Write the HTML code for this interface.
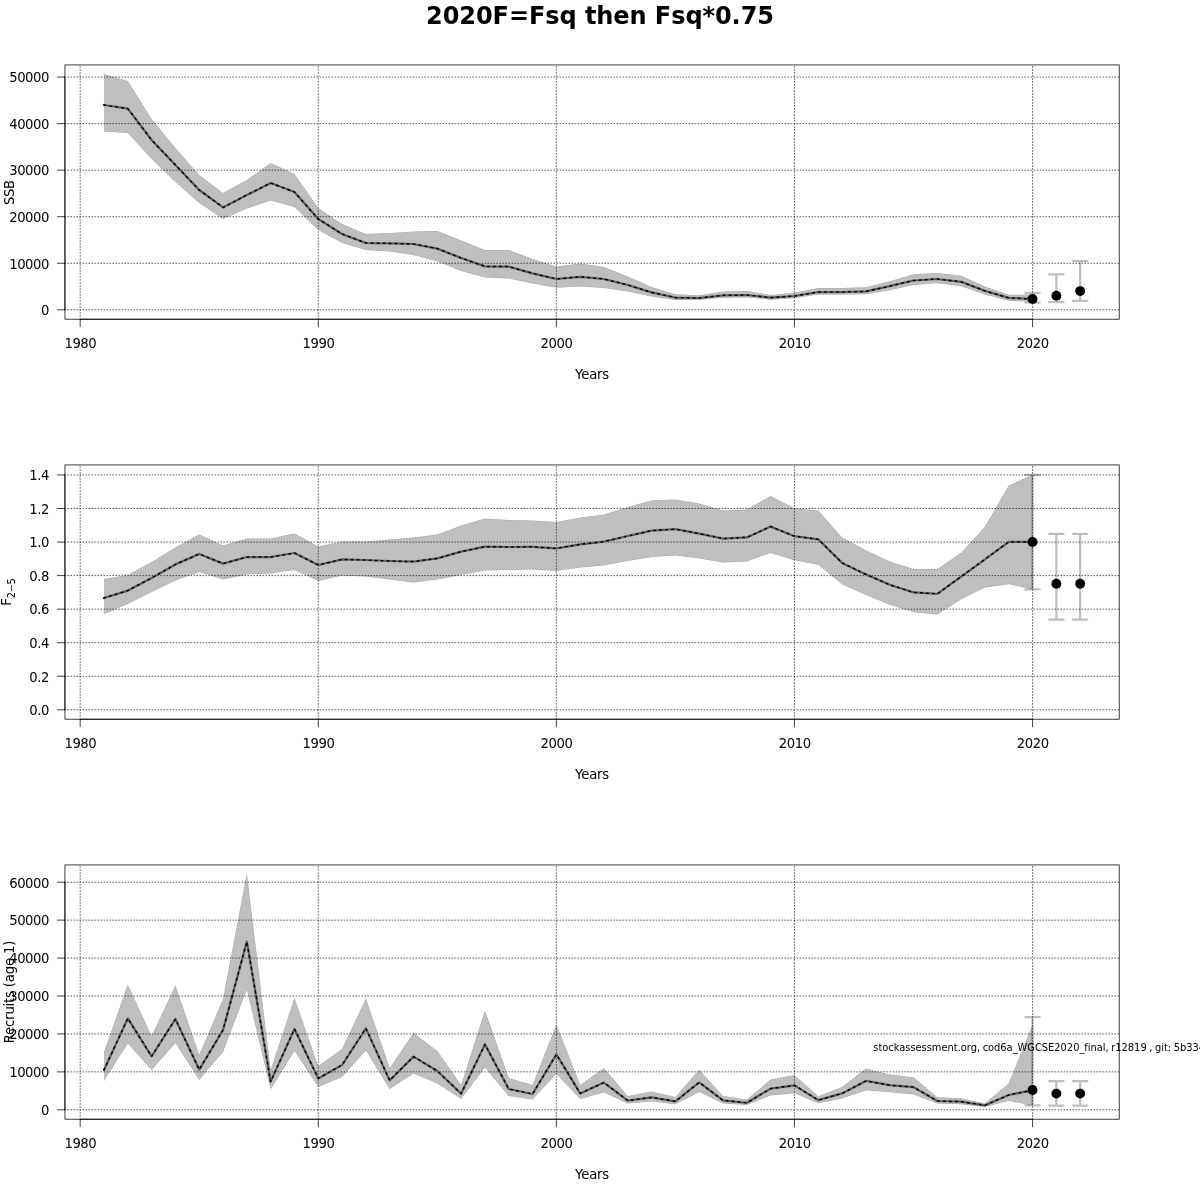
<!DOCTYPE html>
<html lang="en">
<head>
<meta charset="utf-8">
<title>2020F=Fsq then Fsq*0.75</title>
<style>
html,body{margin:0;padding:0;background:#fff;}
body{width:1200px;height:1200px;overflow:hidden;}
svg{display:block;will-change:transform;}
svg text{font-family:"DejaVu Sans", "Liberation Sans", sans-serif;font-size:13.2px;fill:#000;}
svg text.n{letter-spacing:-0.4px;}
svg text.t{letter-spacing:-0.16px;}
</style>
</head>
<body>
<svg width="1200" height="1200" viewBox="0 0 1200 1200">
<rect width="1200" height="1200" fill="#fff"/>
<clipPath id="c0"><polygon points="103.99,74 127.8,81 151.61,119 175.42,148 199.23,175 223.04,193 246.85,180 270.66,163 294.46,174 318.27,208 342.08,224 365.89,234 389.7,233 413.51,231.4 437.32,231 461.13,240.6 484.94,250 508.75,250 532.56,259 556.37,266.4 580.18,263.6 603.98,267 627.79,276.6 651.6,287 675.41,294.2 699.22,295.3 723.03,291.6 746.84,291 770.65,295 794.46,292.7 818.27,288.1 842.08,287.9 865.89,287.2 889.7,281.2 913.5,274.2 937.31,272.9 961.12,275.8 984.93,286.6 1008.74,294.8 1032.55,294.5 1032.55,302 1008.74,300.7 984.93,294.6 961.12,286.2 937.31,283.3 913.5,284.9 889.7,290.3 865.89,294.2 842.08,294.6 818.27,294.6 794.46,298.3 770.65,299.7 746.84,297.4 723.03,297.8 699.22,300 675.41,300 651.6,296.4 627.79,291.6 603.98,288 580.18,286.4 556.37,287.8 532.56,283.6 508.75,278.6 484.94,277.6 461.13,271 437.32,261.6 413.51,255 389.7,251.6 365.89,250 342.08,243 318.27,230 294.46,207 270.66,200.6 246.85,208.6 223.04,219 199.23,203 175.42,182 151.61,159 127.8,133 103.99,131.4"/></clipPath>
<polygon fill="#bfbfbf" points="103.99,74 127.8,81 151.61,119 175.42,148 199.23,175 223.04,193 246.85,180 270.66,163 294.46,174 318.27,208 342.08,224 365.89,234 389.7,233 413.51,231.4 437.32,231 461.13,240.6 484.94,250 508.75,250 532.56,259 556.37,266.4 580.18,263.6 603.98,267 627.79,276.6 651.6,287 675.41,294.2 699.22,295.3 723.03,291.6 746.84,291 770.65,295 794.46,292.7 818.27,288.1 842.08,287.9 865.89,287.2 889.7,281.2 913.5,274.2 937.31,272.9 961.12,275.8 984.93,286.6 1008.74,294.8 1032.55,294.5 1032.55,302 1008.74,300.7 984.93,294.6 961.12,286.2 937.31,283.3 913.5,284.9 889.7,290.3 865.89,294.2 842.08,294.6 818.27,294.6 794.46,298.3 770.65,299.7 746.84,297.4 723.03,297.8 699.22,300 675.41,300 651.6,296.4 627.79,291.6 603.98,288 580.18,286.4 556.37,287.8 532.56,283.6 508.75,278.6 484.94,277.6 461.13,271 437.32,261.6 413.51,255 389.7,251.6 365.89,250 342.08,243 318.27,230 294.46,207 270.66,200.6 246.85,208.6 223.04,219 199.23,203 175.42,182 151.61,159 127.8,133 103.99,131.4"/>
<path clip-path="url(#c0)" d="M103.99 74L127.8 81L151.61 119L175.42 148L199.23 175L223.04 193L246.85 180L270.66 163L294.46 174L318.27 208L342.08 224L365.89 234L389.7 233L413.51 231.4L437.32 231L461.13 240.6L484.94 250L508.75 250L532.56 259L556.37 266.4L580.18 263.6L603.98 267L627.79 276.6L651.6 287L675.41 294.2L699.22 295.3L723.03 291.6L746.84 291L770.65 295L794.46 292.7L818.27 288.1L842.08 287.9L865.89 287.2L889.7 281.2L913.5 274.2L937.31 272.9L961.12 275.8L984.93 286.6L1008.74 294.8L1032.55 294.5M103.99 131.4L127.8 133L151.61 159L175.42 182L199.23 203L223.04 219L246.85 208.6L270.66 200.6L294.46 207L318.27 230L342.08 243L365.89 250L389.7 251.6L413.51 255L437.32 261.6L461.13 271L484.94 277.6L508.75 278.6L532.56 283.6L556.37 287.8L580.18 286.4L603.98 288L627.79 291.6L651.6 296.4L675.41 300L699.22 300L723.03 297.8L746.84 297.4L770.65 299.7L794.46 298.3L818.27 294.6L842.08 294.6L865.89 294.2L889.7 290.3L913.5 284.9L937.31 283.3L961.12 286.2L984.93 294.6L1008.74 300.7L1032.55 302" fill="none" stroke="#000" stroke-opacity="0.33" stroke-width="0.75" stroke-dasharray="0.75 2.25" stroke-linecap="round" stroke-linejoin="round"/>
<path d="M80.18 319.22V64.94M318.27 319.22V64.94M556.37 319.22V64.94M794.46 319.22V64.94M1032.55 319.22V64.94M64.94 309.8H1119.22M64.94 263.25H1119.22M64.94 216.7H1119.22M64.94 170.16H1119.22M64.94 123.61H1119.22M64.94 77.06H1119.22" fill="none" stroke="#000" stroke-width="0.75" stroke-dasharray="0.55 2.45" stroke-linecap="round"/>
<path d="M103.99 105L127.8 108.6L151.61 140L175.42 165L199.23 190L223.04 207.4L246.85 195L270.66 183L294.46 192L318.27 219L342.08 234L365.89 243L389.7 243.4L413.51 244L437.32 248.6L461.13 258L484.94 266.4L508.75 266.6L532.56 273.4L556.37 279L580.18 276.8L603.98 279L627.79 285L651.6 292.4L675.41 297.6L699.22 298L723.03 295.3L746.84 295L770.65 297.6L794.46 296L818.27 292L842.08 292L865.89 291.4L889.7 286.2L913.5 280.5L937.31 279L961.12 281.8L984.93 290.9L1008.74 297.9L1032.55 299" fill="none" stroke="#5e5e5e" stroke-width="2.25" stroke-linejoin="round" stroke-linecap="round"/>
<path d="M103.99 105L127.8 108.6L151.61 140L175.42 165L199.23 190L223.04 207.4L246.85 195L270.66 183L294.46 192L318.27 219L342.08 234L365.89 243L389.7 243.4L413.51 244L437.32 248.6L461.13 258L484.94 266.4L508.75 266.6L532.56 273.4L556.37 279L580.18 276.8L603.98 279L627.79 285L651.6 292.4L675.41 297.6L699.22 298L723.03 295.3L746.84 295L770.65 297.6L794.46 296L818.27 292L842.08 292L865.89 291.4L889.7 286.2L913.5 280.5L937.31 279L961.12 281.8L984.93 290.9L1008.74 297.9L1032.55 299" fill="none" stroke="#000" stroke-width="1.5" stroke-linejoin="round" stroke-linecap="round" stroke-dasharray="1.5 4.5"/>
<rect x="64.94" y="64.94" width="1054.27" height="254.27" fill="none" stroke="#000" stroke-width="0.75"/>
<path d="M80.18 319.22H1032.55M80.18 319.22v7.92M318.27 319.22v7.92M556.37 319.22v7.92M794.46 319.22v7.92M1032.55 319.22v7.92M64.94 309.8V77.06M64.94 309.8h-7.92M64.94 263.25h-7.92M64.94 216.7h-7.92M64.94 170.16h-7.92M64.94 123.61h-7.92M64.94 77.06h-7.92" fill="none" stroke="#000" stroke-width="0.75"/>
<text class="n" x="80.38" y="348" text-anchor="middle">1980</text>
<text class="n" x="318.47" y="348" text-anchor="middle">1990</text>
<text class="n" x="556.57" y="348" text-anchor="middle">2000</text>
<text class="n" x="794.66" y="348" text-anchor="middle">2010</text>
<text class="n" x="1032.75" y="348" text-anchor="middle">2020</text>
<text class="n" x="49.1" y="315" text-anchor="end">0</text>
<text class="n" x="49.1" y="269" text-anchor="end">10000</text>
<text class="n" x="49.1" y="222" text-anchor="end">20000</text>
<text class="n" x="49.1" y="175" text-anchor="end">30000</text>
<text class="n" x="49.1" y="129" text-anchor="end">40000</text>
<text class="n" x="49.1" y="82" text-anchor="end">50000</text>
<text x="592.08" y="379" class="t" text-anchor="middle">Years</text>
<text transform="translate(14.25 192.58) rotate(-90)" style="letter-spacing:-0.4px" text-anchor="middle">SSB</text>
<path d="M1032.55 292.8V302.5M1025.35 292.8h14.4M1025.35 302.5h14.4M1056.36 274.4V302.2M1049.16 274.4h14.4M1049.16 302.2h14.4M1080.17 261V300.9M1072.97 261h14.4M1072.97 300.9h14.4" fill="none" stroke="#000" stroke-opacity="0.255" stroke-width="2.25" stroke-linecap="round"/>
<circle cx="1032.55" cy="299" r="4.95"/>
<circle cx="1056.36" cy="295.7" r="4.95"/>
<circle cx="1080.17" cy="291.1" r="4.95"/>
<clipPath id="c1"><polygon points="103.99,579 127.8,575 151.61,562 175.42,547.4 199.23,534.6 223.04,545.6 246.85,538.4 270.66,538.4 294.46,533.6 318.27,546.4 342.08,541.6 365.89,541.4 389.7,539.6 413.51,537.6 437.32,534.4 461.13,525.6 484.94,518.4 508.75,520 532.56,520.4 556.37,522 580.18,517.6 603.98,514.4 627.79,507 651.6,500.4 675.41,499.4 699.22,503.6 723.03,510.6 746.84,509.6 770.65,496 794.46,508.2 818.27,510.5 842.08,537.6 865.89,550.2 889.7,561.4 913.5,569 937.31,569 961.12,552.8 984.93,526.8 1008.74,485.6 1032.55,474.75 1032.55,589.5 1008.74,584.2 984.93,587.4 961.12,599.3 937.31,614.5 913.5,612.3 889.7,604.8 865.89,595 842.08,584.2 818.27,564.7 794.46,560.2 770.65,553 746.84,561.4 723.03,562.4 699.22,558.6 675.41,555.6 651.6,557 627.79,561 603.98,565.6 580.18,567.6 556.37,571 532.56,569.6 508.75,570 484.94,570.6 461.13,575 437.32,579.6 413.51,582.4 389.7,579.4 365.89,576.4 342.08,575.6 318.27,581 294.46,570 270.66,573.6 246.85,574.4 223.04,579.6 199.23,572 175.42,580.4 151.61,592 127.8,604 103.99,614"/></clipPath>
<polygon fill="#bfbfbf" points="103.99,579 127.8,575 151.61,562 175.42,547.4 199.23,534.6 223.04,545.6 246.85,538.4 270.66,538.4 294.46,533.6 318.27,546.4 342.08,541.6 365.89,541.4 389.7,539.6 413.51,537.6 437.32,534.4 461.13,525.6 484.94,518.4 508.75,520 532.56,520.4 556.37,522 580.18,517.6 603.98,514.4 627.79,507 651.6,500.4 675.41,499.4 699.22,503.6 723.03,510.6 746.84,509.6 770.65,496 794.46,508.2 818.27,510.5 842.08,537.6 865.89,550.2 889.7,561.4 913.5,569 937.31,569 961.12,552.8 984.93,526.8 1008.74,485.6 1032.55,474.75 1032.55,589.5 1008.74,584.2 984.93,587.4 961.12,599.3 937.31,614.5 913.5,612.3 889.7,604.8 865.89,595 842.08,584.2 818.27,564.7 794.46,560.2 770.65,553 746.84,561.4 723.03,562.4 699.22,558.6 675.41,555.6 651.6,557 627.79,561 603.98,565.6 580.18,567.6 556.37,571 532.56,569.6 508.75,570 484.94,570.6 461.13,575 437.32,579.6 413.51,582.4 389.7,579.4 365.89,576.4 342.08,575.6 318.27,581 294.46,570 270.66,573.6 246.85,574.4 223.04,579.6 199.23,572 175.42,580.4 151.61,592 127.8,604 103.99,614"/>
<path clip-path="url(#c1)" d="M103.99 579L127.8 575L151.61 562L175.42 547.4L199.23 534.6L223.04 545.6L246.85 538.4L270.66 538.4L294.46 533.6L318.27 546.4L342.08 541.6L365.89 541.4L389.7 539.6L413.51 537.6L437.32 534.4L461.13 525.6L484.94 518.4L508.75 520L532.56 520.4L556.37 522L580.18 517.6L603.98 514.4L627.79 507L651.6 500.4L675.41 499.4L699.22 503.6L723.03 510.6L746.84 509.6L770.65 496L794.46 508.2L818.27 510.5L842.08 537.6L865.89 550.2L889.7 561.4L913.5 569L937.31 569L961.12 552.8L984.93 526.8L1008.74 485.6L1032.55 474.75M103.99 614L127.8 604L151.61 592L175.42 580.4L199.23 572L223.04 579.6L246.85 574.4L270.66 573.6L294.46 570L318.27 581L342.08 575.6L365.89 576.4L389.7 579.4L413.51 582.4L437.32 579.6L461.13 575L484.94 570.6L508.75 570L532.56 569.6L556.37 571L580.18 567.6L603.98 565.6L627.79 561L651.6 557L675.41 555.6L699.22 558.6L723.03 562.4L746.84 561.4L770.65 553L794.46 560.2L818.27 564.7L842.08 584.2L865.89 595L889.7 604.8L913.5 612.3L937.31 614.5L961.12 599.3L984.93 587.4L1008.74 584.2L1032.55 589.5" fill="none" stroke="#000" stroke-opacity="0.33" stroke-width="0.75" stroke-dasharray="0.75 2.25" stroke-linecap="round" stroke-linejoin="round"/>
<path d="M80.18 719.22V464.94M318.27 719.22V464.94M556.37 719.22V464.94M794.46 719.22V464.94M1032.55 719.22V464.94M64.94 709.8H1119.22M64.94 676.25H1119.22M64.94 642.7H1119.22M64.94 609.15H1119.22M64.94 575.6H1119.22M64.94 542.05H1119.22M64.94 508.5H1119.22M64.94 474.95H1119.22" fill="none" stroke="#000" stroke-width="0.75" stroke-dasharray="0.55 2.45" stroke-linecap="round"/>
<path d="M103.99 598L127.8 590.6L151.61 578L175.42 564.4L199.23 554L223.04 563.6L246.85 557L270.66 557L294.46 553L318.27 565L342.08 559.4L365.89 560L389.7 561L413.51 561.6L437.32 558.4L461.13 551.6L484.94 546.6L508.75 547L532.56 546.8L556.37 548.4L580.18 544.4L603.98 541.6L627.79 536L651.6 530.6L675.41 529.2L699.22 533.6L723.03 538.6L746.84 537.4L770.65 526.6L794.46 536.2L818.27 539.3L842.08 562.9L865.89 574.4L889.7 584.8L913.5 592.4L937.31 593.9L961.12 576.6L984.93 559.3L1008.74 541.9L1032.55 541.9" fill="none" stroke="#5e5e5e" stroke-width="2.25" stroke-linejoin="round" stroke-linecap="round"/>
<path d="M103.99 598L127.8 590.6L151.61 578L175.42 564.4L199.23 554L223.04 563.6L246.85 557L270.66 557L294.46 553L318.27 565L342.08 559.4L365.89 560L389.7 561L413.51 561.6L437.32 558.4L461.13 551.6L484.94 546.6L508.75 547L532.56 546.8L556.37 548.4L580.18 544.4L603.98 541.6L627.79 536L651.6 530.6L675.41 529.2L699.22 533.6L723.03 538.6L746.84 537.4L770.65 526.6L794.46 536.2L818.27 539.3L842.08 562.9L865.89 574.4L889.7 584.8L913.5 592.4L937.31 593.9L961.12 576.6L984.93 559.3L1008.74 541.9L1032.55 541.9" fill="none" stroke="#000" stroke-width="1.5" stroke-linejoin="round" stroke-linecap="round" stroke-dasharray="1.5 4.5"/>
<rect x="64.94" y="464.94" width="1054.27" height="254.27" fill="none" stroke="#000" stroke-width="0.75"/>
<path d="M80.18 719.22H1032.55M80.18 719.22v7.92M318.27 719.22v7.92M556.37 719.22v7.92M794.46 719.22v7.92M1032.55 719.22v7.92M64.94 709.8V474.95M64.94 709.8h-7.92M64.94 676.25h-7.92M64.94 642.7h-7.92M64.94 609.15h-7.92M64.94 575.6h-7.92M64.94 542.05h-7.92M64.94 508.5h-7.92M64.94 474.95h-7.92" fill="none" stroke="#000" stroke-width="0.75"/>
<text class="n" x="80.38" y="748" text-anchor="middle">1980</text>
<text class="n" x="318.47" y="748" text-anchor="middle">1990</text>
<text class="n" x="556.57" y="748" text-anchor="middle">2000</text>
<text class="n" x="794.66" y="748" text-anchor="middle">2010</text>
<text class="n" x="1032.75" y="748" text-anchor="middle">2020</text>
<text class="n" x="49.1" y="715" text-anchor="end">0.0</text>
<text class="n" x="49.1" y="682" text-anchor="end">0.2</text>
<text class="n" x="49.1" y="648" text-anchor="end">0.4</text>
<text class="n" x="49.1" y="614" text-anchor="end">0.6</text>
<text class="n" x="49.1" y="581" text-anchor="end">0.8</text>
<text class="n" x="49.1" y="547" text-anchor="end">1.0</text>
<text class="n" x="49.1" y="514" text-anchor="end">1.2</text>
<text class="n" x="49.1" y="480" text-anchor="end">1.4</text>
<text x="592.08" y="779" class="t" text-anchor="middle">Years</text>
<text transform="translate(10.9 605.83) rotate(-90)" text-anchor="start">F<tspan dy="3.95" style="font-size:9.9px;letter-spacing:-0.4px">2−5</tspan></text>
<path d="M1032.55 474.9V589.3M1025.35 474.9h14.4M1025.35 589.3h14.4M1056.36 533.8V619.6M1049.16 533.8h14.4M1049.16 619.6h14.4M1080.17 533.8V619.6M1072.97 533.8h14.4M1072.97 619.6h14.4" fill="none" stroke="#000" stroke-opacity="0.255" stroke-width="2.25" stroke-linecap="round"/>
<circle cx="1032.55" cy="541.9" r="4.95"/>
<circle cx="1056.36" cy="583.8" r="4.95"/>
<circle cx="1080.17" cy="583.8" r="4.95"/>
<clipPath id="c2"><polygon points="103.99,1052 127.8,984.4 151.61,1036 175.42,985.4 199.23,1055 223.04,999 246.85,873.2 270.66,1070 294.46,998 318.27,1066 342.08,1049 365.89,998.4 389.7,1068 413.51,1033 437.32,1051 461.13,1085 484.94,1010.4 508.75,1078 532.56,1085 556.37,1024.4 580.18,1085 603.98,1068 627.79,1096 651.6,1091.4 675.41,1097 699.22,1069.4 723.03,1096 746.84,1099.6 770.65,1079.6 794.46,1075 818.27,1096.2 842.08,1086.9 865.89,1068.5 889.7,1074.6 913.5,1077.2 937.31,1097.3 961.12,1098.2 984.93,1103.6 1008.74,1083.5 1032.55,1024.4 1032.55,1105.5 1008.74,1100.8 984.93,1106.9 961.12,1104.3 937.31,1103.6 913.5,1094.5 889.7,1092.3 865.89,1090.2 842.08,1098.4 818.27,1103.2 794.46,1093.2 770.65,1095.4 746.84,1105 723.03,1103.4 699.22,1092 675.41,1104.2 651.6,1101.4 627.79,1103.6 603.98,1092.6 580.18,1099 556.37,1074 532.56,1099.6 508.75,1096 484.94,1067.6 461.13,1099 437.32,1083.6 413.51,1073.6 389.7,1089 365.89,1050.4 342.08,1077 318.27,1087 294.46,1051 270.66,1089.6 246.85,989.6 223.04,1052 199.23,1080 175.42,1043 151.61,1070 127.8,1043.6 103.99,1081"/></clipPath>
<polygon fill="#bfbfbf" points="103.99,1052 127.8,984.4 151.61,1036 175.42,985.4 199.23,1055 223.04,999 246.85,873.2 270.66,1070 294.46,998 318.27,1066 342.08,1049 365.89,998.4 389.7,1068 413.51,1033 437.32,1051 461.13,1085 484.94,1010.4 508.75,1078 532.56,1085 556.37,1024.4 580.18,1085 603.98,1068 627.79,1096 651.6,1091.4 675.41,1097 699.22,1069.4 723.03,1096 746.84,1099.6 770.65,1079.6 794.46,1075 818.27,1096.2 842.08,1086.9 865.89,1068.5 889.7,1074.6 913.5,1077.2 937.31,1097.3 961.12,1098.2 984.93,1103.6 1008.74,1083.5 1032.55,1024.4 1032.55,1105.5 1008.74,1100.8 984.93,1106.9 961.12,1104.3 937.31,1103.6 913.5,1094.5 889.7,1092.3 865.89,1090.2 842.08,1098.4 818.27,1103.2 794.46,1093.2 770.65,1095.4 746.84,1105 723.03,1103.4 699.22,1092 675.41,1104.2 651.6,1101.4 627.79,1103.6 603.98,1092.6 580.18,1099 556.37,1074 532.56,1099.6 508.75,1096 484.94,1067.6 461.13,1099 437.32,1083.6 413.51,1073.6 389.7,1089 365.89,1050.4 342.08,1077 318.27,1087 294.46,1051 270.66,1089.6 246.85,989.6 223.04,1052 199.23,1080 175.42,1043 151.61,1070 127.8,1043.6 103.99,1081"/>
<path clip-path="url(#c2)" d="M103.99 1052L127.8 984.4L151.61 1036L175.42 985.4L199.23 1055L223.04 999L246.85 873.2L270.66 1070L294.46 998L318.27 1066L342.08 1049L365.89 998.4L389.7 1068L413.51 1033L437.32 1051L461.13 1085L484.94 1010.4L508.75 1078L532.56 1085L556.37 1024.4L580.18 1085L603.98 1068L627.79 1096L651.6 1091.4L675.41 1097L699.22 1069.4L723.03 1096L746.84 1099.6L770.65 1079.6L794.46 1075L818.27 1096.2L842.08 1086.9L865.89 1068.5L889.7 1074.6L913.5 1077.2L937.31 1097.3L961.12 1098.2L984.93 1103.6L1008.74 1083.5L1032.55 1024.4M103.99 1081L127.8 1043.6L151.61 1070L175.42 1043L199.23 1080L223.04 1052L246.85 989.6L270.66 1089.6L294.46 1051L318.27 1087L342.08 1077L365.89 1050.4L389.7 1089L413.51 1073.6L437.32 1083.6L461.13 1099L484.94 1067.6L508.75 1096L532.56 1099.6L556.37 1074L580.18 1099L603.98 1092.6L627.79 1103.6L651.6 1101.4L675.41 1104.2L699.22 1092L723.03 1103.4L746.84 1105L770.65 1095.4L794.46 1093.2L818.27 1103.2L842.08 1098.4L865.89 1090.2L889.7 1092.3L913.5 1094.5L937.31 1103.6L961.12 1104.3L984.93 1106.9L1008.74 1100.8L1032.55 1105.5" fill="none" stroke="#000" stroke-opacity="0.33" stroke-width="0.75" stroke-dasharray="0.75 2.25" stroke-linecap="round" stroke-linejoin="round"/>
<path d="M80.18 1119.22V864.94M318.27 1119.22V864.94M556.37 1119.22V864.94M794.46 1119.22V864.94M1032.55 1119.22V864.94M64.94 1109.8H1119.22M64.94 1071.87H1119.22M64.94 1033.94H1119.22M64.94 996.01H1119.22M64.94 958.07H1119.22M64.94 920.14H1119.22M64.94 882.21H1119.22" fill="none" stroke="#000" stroke-width="0.75" stroke-dasharray="0.55 2.45" stroke-linecap="round"/>
<path d="M103.99 1070L127.8 1018.4L151.61 1056.4L175.42 1019L199.23 1069.6L223.04 1030L246.85 941.6L270.66 1081.6L294.46 1029L318.27 1078.4L342.08 1065L365.89 1028.4L389.7 1080.4L413.51 1056.6L437.32 1071L461.13 1093.6L484.94 1044.4L508.75 1089L532.56 1094L556.37 1054.4L580.18 1093.4L603.98 1082.6L627.79 1100.6L651.6 1097.4L675.41 1101.4L699.22 1082.4L723.03 1100.4L746.84 1102.8L770.65 1088.6L794.46 1085.4L818.27 1100.1L842.08 1093.4L865.89 1080.9L889.7 1085.2L913.5 1087.1L937.31 1101L961.12 1101.7L984.93 1105.3L1008.74 1095L1032.55 1090.2" fill="none" stroke="#5e5e5e" stroke-width="2.25" stroke-linejoin="round" stroke-linecap="round"/>
<path d="M103.99 1070L127.8 1018.4L151.61 1056.4L175.42 1019L199.23 1069.6L223.04 1030L246.85 941.6L270.66 1081.6L294.46 1029L318.27 1078.4L342.08 1065L365.89 1028.4L389.7 1080.4L413.51 1056.6L437.32 1071L461.13 1093.6L484.94 1044.4L508.75 1089L532.56 1094L556.37 1054.4L580.18 1093.4L603.98 1082.6L627.79 1100.6L651.6 1097.4L675.41 1101.4L699.22 1082.4L723.03 1100.4L746.84 1102.8L770.65 1088.6L794.46 1085.4L818.27 1100.1L842.08 1093.4L865.89 1080.9L889.7 1085.2L913.5 1087.1L937.31 1101L961.12 1101.7L984.93 1105.3L1008.74 1095L1032.55 1090.2" fill="none" stroke="#000" stroke-width="1.5" stroke-linejoin="round" stroke-linecap="round" stroke-dasharray="1.5 4.5"/>
<rect x="64.94" y="864.94" width="1054.27" height="254.27" fill="none" stroke="#000" stroke-width="0.75"/>
<path d="M80.18 1119.22H1032.55M80.18 1119.22v7.92M318.27 1119.22v7.92M556.37 1119.22v7.92M794.46 1119.22v7.92M1032.55 1119.22v7.92M64.94 1109.8V882.21M64.94 1109.8h-7.92M64.94 1071.87h-7.92M64.94 1033.94h-7.92M64.94 996.01h-7.92M64.94 958.07h-7.92M64.94 920.14h-7.92M64.94 882.21h-7.92" fill="none" stroke="#000" stroke-width="0.75"/>
<text class="n" x="80.38" y="1148" text-anchor="middle">1980</text>
<text class="n" x="318.47" y="1148" text-anchor="middle">1990</text>
<text class="n" x="556.57" y="1148" text-anchor="middle">2000</text>
<text class="n" x="794.66" y="1148" text-anchor="middle">2010</text>
<text class="n" x="1032.75" y="1148" text-anchor="middle">2020</text>
<text class="n" x="49.1" y="1115" text-anchor="end">0</text>
<text class="n" x="49.1" y="1077" text-anchor="end">10000</text>
<text class="n" x="49.1" y="1039" text-anchor="end">20000</text>
<text class="n" x="49.1" y="1001" text-anchor="end">30000</text>
<text class="n" x="49.1" y="963" text-anchor="end">40000</text>
<text class="n" x="49.1" y="925" text-anchor="end">50000</text>
<text class="n" x="49.1" y="888" text-anchor="end">60000</text>
<text x="592.08" y="1179" class="t" text-anchor="middle">Years</text>
<text transform="translate(14.25 992.08) rotate(-90)" style="letter-spacing:-0.16px" text-anchor="middle">Recruits (age 1)</text>
<path d="M1032.55 1017.2V1105.3M1025.35 1017.2h14.4M1025.35 1105.3h14.4M1056.36 1081V1105.6M1049.16 1081h14.4M1049.16 1105.6h14.4M1080.17 1081V1105.6M1072.97 1081h14.4M1072.97 1105.6h14.4" fill="none" stroke="#000" stroke-opacity="0.255" stroke-width="2.25" stroke-linecap="round"/>
<circle cx="1032.55" cy="1090" r="4.95"/>
<circle cx="1056.36" cy="1093.6" r="4.95"/>
<circle cx="1080.17" cy="1093.6" r="4.95"/>
<text x="600" y="24" text-anchor="middle" style="font-size:24px;font-weight:bold;letter-spacing:-0.07px">2020F=Fsq then Fsq*0.75</text>
<text x="873.3" y="1050.5" style="font-size:9.9px;letter-spacing:-0.015px;word-spacing:-0.5px">stockassessment.org, cod6a_WGCSE2020_final, r12819 , git: 5b334</text>
</svg>
</body>
</html>
